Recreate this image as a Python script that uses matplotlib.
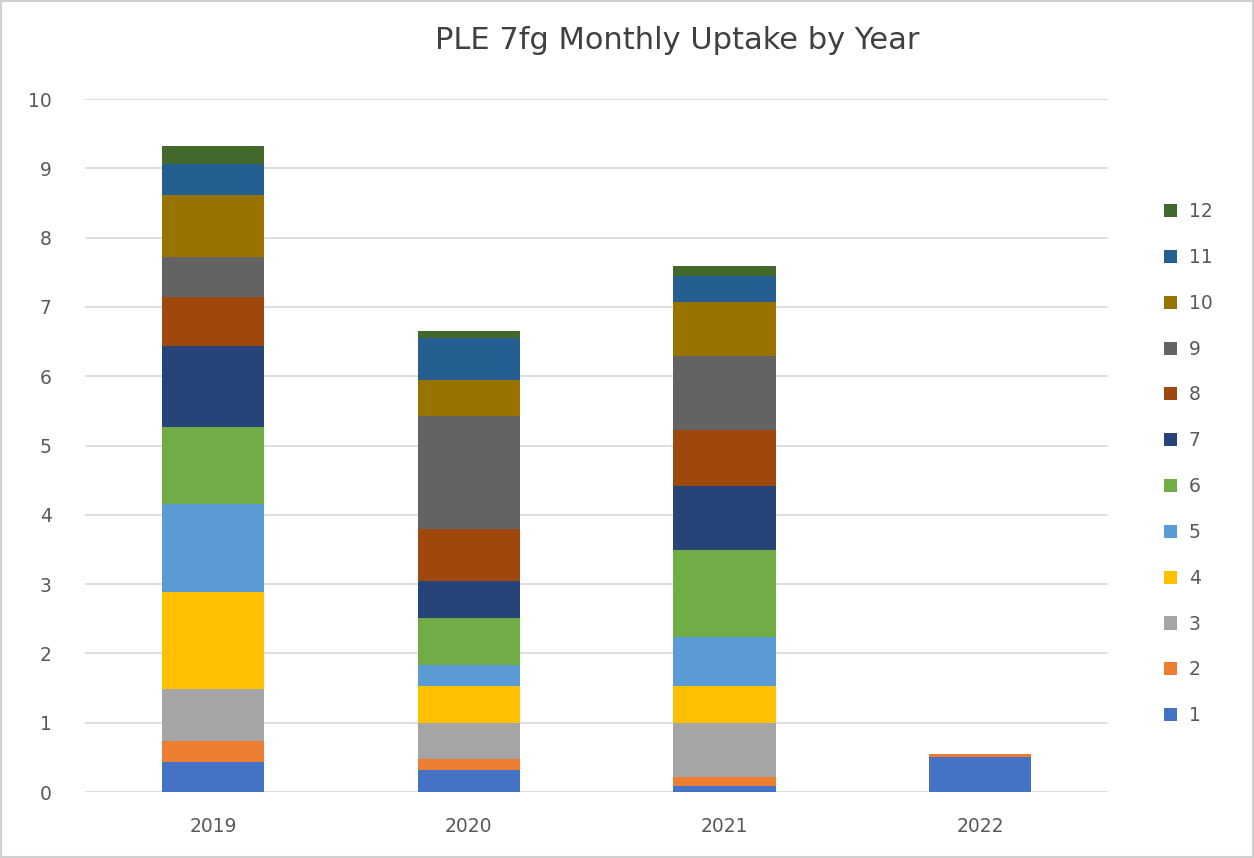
import matplotlib.pyplot as plt
from matplotlib.patches import Patch, Rectangle
import numpy as np

years = ['2019', '2020', '2021', '2022']
months = [str(m) for m in range(1, 13)]

# monthly uptake per year, month 1..12 (2022 only has Jan/Feb)
y2019 = [0.44, 0.30, 0.75, 1.40, 1.27, 1.10, 1.18, 0.70, 0.58, 0.90, 0.44, 0.26]
y2020 = [0.32, 0.15, 0.52, 0.54, 0.30, 0.68, 0.53, 0.75, 1.63, 0.53, 0.60, 0.10]
y2021 = [0.09, 0.13, 0.77, 0.54, 0.71, 1.25, 0.92, 0.81, 1.07, 0.78, 0.38, 0.14]
y2022 = [0.50, 0.05, 0, 0, 0, 0, 0, 0, 0, 0, 0, 0]

colors = ['#4472C4', '#ED7D31', '#A5A5A5', '#FFC000', '#5B9BD5', '#70AD47',
          '#264478', '#9E480E', '#636363', '#997300', '#255E91', '#43682B']

data = np.array([y2019, y2020, y2021, y2022])

fig = plt.figure(figsize=(12.54, 8.58), dpi=100)
ax = fig.add_axes([0.0678, 0.0769, 0.8158, 0.8077])

x = np.arange(len(years))
bottom = np.zeros(len(years))
for i in range(12):
    ax.bar(x, data[:, i], width=0.4, bottom=bottom, color=colors[i],
           zorder=3, label=months[i])
    bottom += data[:, i]

ax.set_xlim(-0.5, 3.5)
ax.set_ylim(0, 10)
ax.set_yticks(range(0, 11))
ax.set_xticks(x)
ax.set_xticklabels(years)
ax.grid(axis='y', color='#d9d9d9', linewidth=1.2, zorder=0)
for s in ax.spines.values():
    s.set_visible(False)
ax.tick_params(axis='both', length=0, labelsize=13.5, colors='#595959')
ax.tick_params(axis='y', pad=24)
ax.tick_params(axis='x', pad=18)

fig.text(0.54, 0.953, 'PLE 7fg Monthly Uptake by Year', ha='center', va='center',
         fontsize=22, color='#404040')

handles = [Patch(facecolor=colors[i], label=months[i]) for i in range(11, -1, -1)]
fig.legend(handles=handles, loc='upper left', bbox_to_anchor=(0.915, 0.784),
           frameon=False, fontsize=13.5, labelcolor='#595959', labelspacing=1.43,
           handlelength=0.7, handleheight=0.7, handletextpad=0.6)

fig.patches.append(Rectangle((0.001, 0.001), 0.998, 0.998, transform=fig.transFigure,
                             fill=False, edgecolor='#d0d0d0', linewidth=1.5))

fig.savefig('out.png', dpi=100)
